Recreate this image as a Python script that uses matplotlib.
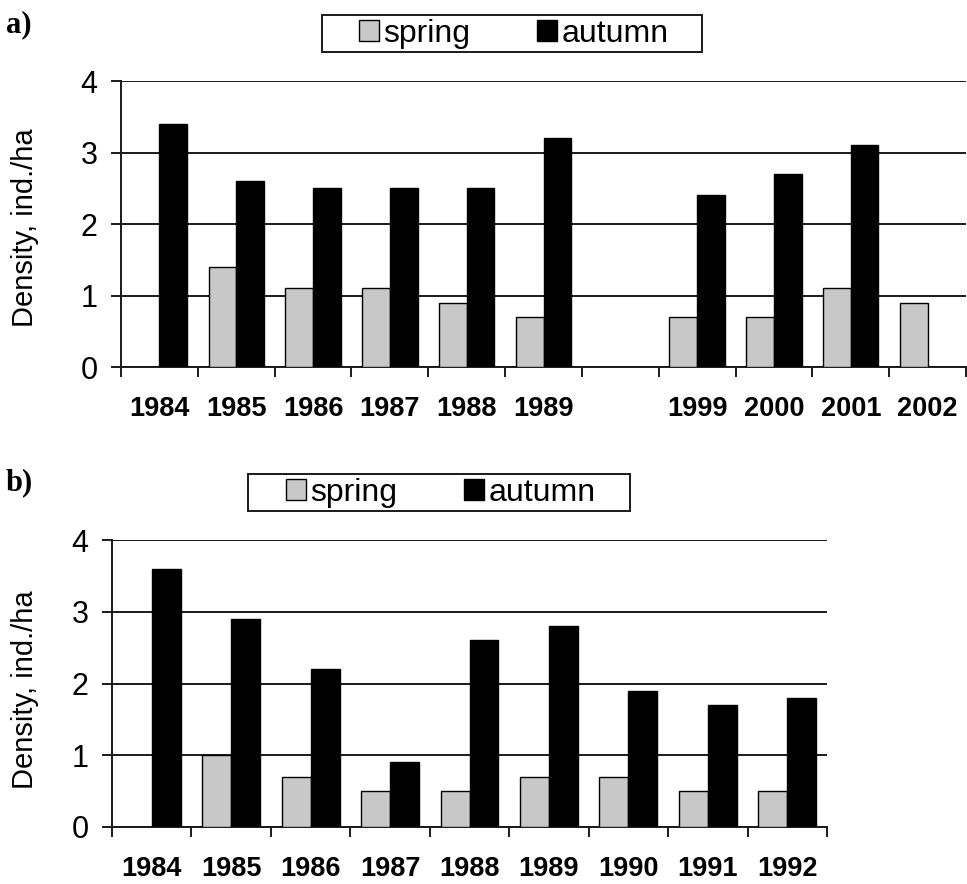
import numpy as np
import matplotlib
matplotlib.use("Agg")
import matplotlib.pyplot as plt
from matplotlib.patches import Rectangle

# ---- data ----
years_a = ['1984', '1985', '1986', '1987', '1988', '1989', '', '1999', '2000', '2001', '2002']
spring_a = [np.nan, 1.4, 1.1, 1.1, 0.9, 0.7, np.nan, 0.7, 0.7, 1.1, 0.9]
autumn_a = [3.4, 2.6, 2.5, 2.5, 2.5, 3.2, np.nan, 2.4, 2.7, 3.1, np.nan]

years_b = ['1984', '1985', '1986', '1987', '1988', '1989', '1990', '1991', '1992']
spring_b = [np.nan, 1.0, 0.7, 0.5, 0.5, 0.7, 0.7, 0.5, 0.5]
autumn_b = [3.6, 2.9, 2.2, 0.9, 2.6, 2.8, 1.9, 1.7, 1.8]

yticks = [0, 1, 2, 3, 4]
ylabel = 'Density, ind./ha'
series_names = ['spring', 'autumn']

# ---- style ----
W, H = 967, 884
DPI = 100
SPRING_C = '#c8c8c8'
AUTUMN_C = '#000000'
LINE_C = '#1a1a1a'
SANS = ['Liberation Sans', 'DejaVu Sans']
SERIF = ['Liberation Serif', 'DejaVu Serif']

fig = plt.figure(figsize=(W / DPI, H / DPI), dpi=DPI)


def px_axes(l, r, top, bottom):
    return fig.add_axes([l / W, 1 - bottom / H, (r - l) / W, (bottom - top) / H])


def draw_panel(ax, cats, spring, autumn, width, label_y):
    n = len(cats)
    x = np.arange(n)
    ax.bar(x - width / 2, spring, width, color=SPRING_C, edgecolor='black', linewidth=1.0, zorder=3)
    ax.bar(x + width / 2, autumn, width, color=AUTUMN_C, edgecolor='black', linewidth=1.0, zorder=3)
    ax.set_xlim(-0.5, n - 0.5)
    ax.set_ylim(0, 4)
    ax.set_yticks(yticks)
    ax.set_yticklabels([str(t) for t in yticks], fontsize=22, family=SANS)
    ax.set_xticks(x)
    ax.set_xticklabels(cats, fontsize=19.5, fontweight='bold', family=SANS)
    ax.set_xticks(np.arange(n + 1) - 0.5, minor=True)
    ax.tick_params(axis='x', which='major', length=0, pad=21)
    ax.tick_params(axis='x', which='minor', length=7, width=1.4, color=LINE_C, direction='out')
    ax.tick_params(axis='y', which='major', length=7, width=1.4, color=LINE_C, direction='out', pad=10)
    for s in ['top', 'right']:
        ax.spines[s].set_visible(False)
    for s in ['left', 'bottom']:
        ax.spines[s].set_linewidth(1.4)
        ax.spines[s].set_color(LINE_C)
    ax.grid(axis='y', color=LINE_C, linewidth=1.4, zorder=1)
    ax.set_axisbelow(True)
    fig.text(25 / W, 1 - label_y / H, ylabel, fontsize=21, family=SANS,
             rotation=90, ha='center', va='center')


def draw_legend(cx, cy, box_l, box_r, box_t, box_b):
    handles = [Rectangle((0, 0), 1, 1, facecolor=SPRING_C, edgecolor='black', linewidth=1.0),
               Rectangle((0, 0), 1, 1, facecolor=AUTUMN_C, edgecolor='black', linewidth=1.0)]
    fig.legend(handles, series_names, loc='center', bbox_to_anchor=(cx / W, 1 - cy / H),
               ncol=2, frameon=False, prop={'family': SANS, 'size': 23},
               handlelength=0.62, handleheight=0.62, handletextpad=0.15, columnspacing=2.1)
    fig.patches.append(Rectangle((box_l / W, 1 - box_b / H), (box_r - box_l) / W, (box_b - box_t) / H,
                                 transform=fig.transFigure, fill=False, edgecolor=LINE_C, linewidth=1.4))


# Panel a
ax_a = px_axes(121, 966, 81, 367)
draw_panel(ax_a, years_a, spring_a, autumn_a, 0.36, 228)
draw_legend(514, 34, 322, 702, 15, 52)
fig.text(6 / W, 1 - 10 / H, 'a)', fontsize=22, fontweight='bold', family=SERIF, ha='left', va='top')

# Panel b
ax_b = px_axes(112, 827, 540, 827)
draw_panel(ax_b, years_b, spring_b, autumn_b, 0.365, 690)
draw_legend(441, 493, 248, 630, 474, 511)
fig.text(6 / W, 1 - 468 / H, 'b)', fontsize=22, fontweight='bold', family=SERIF, ha='left', va='top')

fig.savefig('out.png', dpi=DPI)
